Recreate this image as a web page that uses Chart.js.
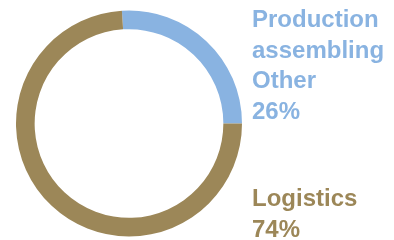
<!DOCTYPE html>
<html>
<head>
<meta charset="utf-8">
<script src="https://cdn.jsdelivr.net/npm/chart.js@4"></script>
<style>
  html, body { margin: 0; padding: 0; background: #fff; }
  #wrap { width: 394px; height: 240px; }
</style>
</head>
<body>
<div id="wrap"><canvas id="myChart" width="394" height="240"></canvas></div>
<script>
// share of activities
var categories = ["Production assembling Other", "Logistics"];
var values = [26, 74];
var colors = ["#89b3e1", "#9c8758"];

// labels split into lines, drawn to the right of the ring
var labelLines = [
  ["Production", "assembling", "Other", "26%"],
  ["Logistics", "74%"]
];

var sideLabels = {
  id: "sideLabels",
  afterDraw: function(chart) {
    var ctx = chart.ctx;
    ctx.save();
    ctx.font = "bold 24px 'Liberation Sans', Arial, sans-serif";
    ctx.textBaseline = "alphabetic";
    ctx.textAlign = "left";
    var starts = [27, 206];
    for (var i = 0; i < labelLines.length; i++) {
      ctx.fillStyle = colors[i];
      for (var j = 0; j < labelLines[i].length; j++) {
        ctx.fillText(labelLines[i][j], 252, starts[i] + j * 30.7);
      }
    }
    ctx.restore();
  }
};

var myChart = new Chart(document.getElementById("myChart"), {
  type: "doughnut",
  data: {
    labels: categories,
    datasets: [{
      data: values,
      backgroundColor: colors,
      borderWidth: 0
    }]
  },
  options: {
    responsive: false,
    animation: false,
    rotation: -3.6,
    cutout: "83.5%",
    layout: { padding: { left: 16, right: 152, top: 10, bottom: 3 } },
    plugins: {
      legend: { display: false },
      tooltip: { enabled: false }
    }
  },
  plugins: [sideLabels]
});
</script>
</body>
</html>
